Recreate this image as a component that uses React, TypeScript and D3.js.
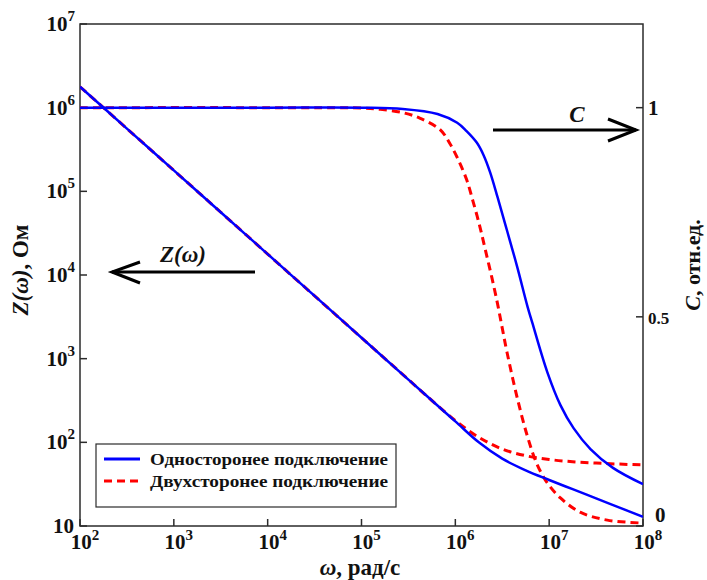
import React from "react";
import * as d3 from "d3";

// ---- data (log10 of ω) ----
const zLogOmega = [2, 2.5, 3, 3.5, 4, 4.5, 5, 5.5, 5.75, 6, 6.25, 6.5, 6.75, 7, 7.25, 7.5, 7.75, 8];
const zBlueLog = [6.25, 5.75, 5.25, 4.75, 4.25, 3.75, 3.25, 2.75, 2.5, 2.25, 2.0, 1.805, 1.665, 1.55, 1.44, 1.33, 1.22, 1.11];
const zRedLog = [6.25, 5.75, 5.25, 4.75, 4.25, 3.75, 3.25, 2.75, 2.5, 2.26, 2.06, 1.92, 1.84, 1.795, 1.768, 1.752, 1.74, 1.73];

const cBlueLogOmega = [2, 4, 5, 5.44, 5.81, 6.02, 6.12, 6.23, 6.3, 6.37, 6.45, 6.55, 6.66, 6.77, 6.82, 6.98, 7.12, 7.26, 7.44, 7.68, 8];
const cBlue = [1, 1, 1, 0.997, 0.985, 0.964, 0.944, 0.916, 0.887, 0.846, 0.786, 0.707, 0.619, 0.524, 0.486, 0.368, 0.289, 0.234, 0.184, 0.139, 0.1];
const cRedLogOmega = [2, 4, 5, 5.2, 5.44, 5.62, 5.84, 5.94, 6.03, 6.12, 6.19, 6.26, 6.32, 6.39, 6.45, 6.5, 6.55, 6.66, 6.77, 6.87, 6.98, 7.12, 7.33, 7.62, 8];
const cRed = [1, 1, 0.999, 0.996, 0.988, 0.975, 0.947, 0.915, 0.876, 0.828, 0.775, 0.717, 0.66, 0.593, 0.531, 0.473, 0.416, 0.306, 0.213, 0.148, 0.103, 0.067, 0.033, 0.014, 0.007];

const xTickExps = [2, 3, 4, 5, 6, 7, 8];
const yTickExps = [1, 2, 3, 4, 5, 6, 7];
const cTicks = [0, 0.5, 1];
const legendLabels = ["Односторонее подключение", "Двухсторонее подключение"];

const BLUE = "#0000ff";
const RED = "#ff0000";
const FONT = "'Liberation Serif', 'DejaVu Serif', serif";

export default function App() {
  const left = 80, right = 643, top = 24, bottom = 526;
  const x = d3.scaleLog().domain([1e2, 1e8]).range([left, right]);
  const y = d3.scaleLog().domain([10, 1e7]).range([bottom, top]);
  const yc = d3.scaleLinear().domain([0, 1.2]).range([bottom, top]);

  const line = d3.line<[number, number]>().x(d => d[0]).y(d => d[1]).curve(d3.curveCatmullRom.alpha(0.5));
  const zPath = (vals: number[]) => line(zLogOmega.map((lw, i) => [x(Math.pow(10, lw)), y(Math.pow(10, vals[i]))]))!;
  const cPath = (lws: number[], vals: number[]) => line(lws.map((lw, i) => [x(Math.pow(10, lw)), yc(vals[i])]))!;

  return (
    <svg width={707} height={580} style={{ position: "absolute", left: 0, top: 0, background: "#fff" }} fontFamily={FONT}>
      <rect x={0} y={0} width={707} height={580} fill="#fff" />
      <defs>
        <clipPath id="plot">
          <rect x={left} y={top} width={right - left} height={bottom - top} />
        </clipPath>
      </defs>
      {/* frame */}
      <rect x={left} y={top} width={right - left} height={bottom - top} fill="none" stroke="#2b2b2b" strokeWidth={1.5} />
      {/* bottom ticks */}
      {xTickExps.map(e => (
        <g key={"xt" + e}>
          <line x1={x(Math.pow(10, e))} x2={x(Math.pow(10, e))} y1={bottom} y2={bottom - 7} stroke="#2b2b2b" strokeWidth={1.5} />
          <text x={x(Math.pow(10, e)) + 5} y={549} textAnchor="middle" fontWeight="bold" fontSize={21} fill="#111">
            10<tspan dy={-9} fontSize={15}>{e}</tspan>
          </text>
        </g>
      ))}
      {/* left ticks */}
      {yTickExps.map(e => (
        <g key={"yt" + e}>
          <line x1={left} x2={left + 7} y1={y(Math.pow(10, e))} y2={y(Math.pow(10, e))} stroke="#2b2b2b" strokeWidth={1.5} />
          {e === 1 ? (
            <text x={74} y={y(Math.pow(10, e)) + 7} textAnchor="end" fontWeight="bold" fontSize={21} fill="#111">10</text>
          ) : (
            <text x={75} y={y(Math.pow(10, e)) + 7} textAnchor="end" fontWeight="bold" fontSize={21} fill="#111">
              10<tspan dy={-10} fontSize={15}>{e}</tspan>
            </text>
          )}
        </g>
      ))}
      {/* right ticks */}
      {cTicks.map(t => (
        <g key={"ct" + t}>
          <line x1={right} x2={right - 7} y1={yc(t)} y2={yc(t)} stroke="#2b2b2b" strokeWidth={1.5} />
          <text x={t === 0 ? 655 : 648} y={t === 0 ? 522 : yc(t) + 7} textAnchor="start" fontWeight="bold" fontSize={t === 0.5 ? 17 : 21} fill="#111">
            {t}
          </text>
        </g>
      ))}
      {/* curves */}
      <g clipPath="url(#plot)" fill="none">
        <path d={cPath(cRedLogOmega, cRed)} stroke={RED} strokeWidth={3} strokeDasharray="8,5" />
        <path d={zPath(zRedLog)} stroke={RED} strokeWidth={3} strokeDasharray="8,5" />
        <path d={cPath(cBlueLogOmega, cBlue)} stroke={BLUE} strokeWidth={2.5} />
        <path d={zPath(zBlueLog)} stroke={BLUE} strokeWidth={2.5} />
      </g>
      {/* arrows */}
      <g stroke="#000" strokeWidth={3} fill="none">
        <line x1={255} y1={272} x2={112} y2={272} />
        <polyline points="140,262 112,272 140,283" />
        <line x1={493} y1={130} x2={636} y2={130} />
        <polyline points="608,119 636,130 608,141" />
      </g>
      <text x={183} y={262} textAnchor="middle" fontWeight="bold" fontStyle="italic" fontSize={23} fill="#111">Z(ω)</text>
      <text x={577} y={122} textAnchor="middle" fontWeight="bold" fontStyle="italic" fontSize={23} fill="#111">C</text>
      {/* legend */}
      <rect x={96} y={444} width={300} height={63} fill="#fff" stroke="#2b2b2b" strokeWidth={1.2} />
      <line x1={104} x2={140} y1={459} y2={459} stroke={BLUE} strokeWidth={3} />
      <line x1={104} x2={140} y1={481} y2={481} stroke={RED} strokeWidth={3} strokeDasharray="8,5" />
      <text x={150} y={465} fontWeight="bold" fontSize={16} fill="#111" textLength={238} lengthAdjust="spacingAndGlyphs">{legendLabels[0]}</text>
      <text x={150} y={487} fontWeight="bold" fontSize={16} fill="#111" textLength={238} lengthAdjust="spacingAndGlyphs">{legendLabels[1]}</text>
      {/* axis labels */}
      <text transform="translate(28,270) rotate(-90)" textAnchor="middle" fontWeight="bold" fontSize={23} fill="#111">
        <tspan fontStyle="italic">Z(ω)</tspan>, Ом
      </text>
      <text transform="translate(700,265) rotate(-90)" textAnchor="middle" fontWeight="bold" fontSize={22} fill="#111">
        <tspan fontStyle="italic">C</tspan>, отн.ед.
      </text>
      <text x={360} y={575} textAnchor="middle" fontWeight="bold" fontSize={23} fill="#111">
        <tspan fontStyle="italic">ω</tspan>, рад/с
      </text>
    </svg>
  );
}
